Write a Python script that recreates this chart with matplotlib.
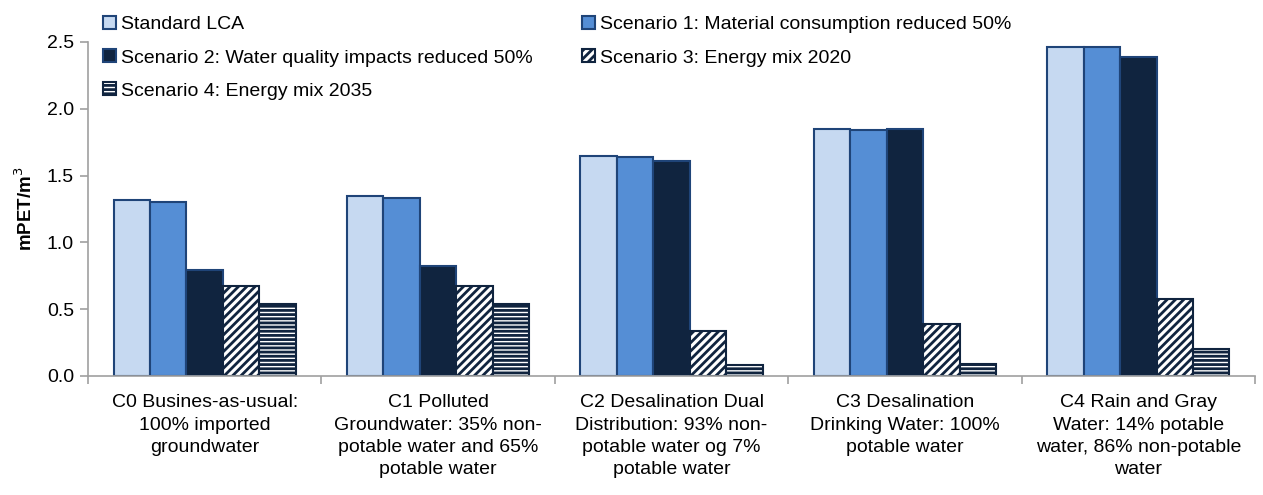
import matplotlib
matplotlib.use("Agg")
import matplotlib.pyplot as plt
import numpy as np

categories = [
    "C0 Busines-as-usual:\n100% imported\ngroundwater",
    "C1 Polluted\nGroundwater: 35% non-\npotable water and 65%\npotable water",
    "C2 Desalination Dual\nDistribution: 93% non-\npotable water og 7%\npotable water",
    "C3 Desalination\nDrinking Water: 100%\npotable water",
    "C4 Rain and Gray\nWater: 14% potable\nwater, 86% non-potable\nwater",
]
series_names = [
    "Standard LCA",
    "Scenario 1: Material consumption reduced 50%",
    "Scenario 2: Water quality impacts reduced 50%",
    "Scenario 3: Energy mix 2020",
    "Scenario 4: Energy mix 2035",
]
standard_lca = [1.32, 1.35, 1.65, 1.85, 2.46]
scenario1 = [1.30, 1.33, 1.64, 1.84, 2.46]
scenario2 = [0.79, 0.82, 1.61, 1.85, 2.39]
scenario3 = [0.67, 0.67, 0.34, 0.39, 0.58]
scenario4 = [0.54, 0.54, 0.08, 0.09, 0.20]
yticks = [0.0, 0.5, 1.0, 1.5, 2.0, 2.5]

plt.rcParams['font.family'] = ['Liberation Sans', 'DejaVu Sans']
plt.rcParams['hatch.linewidth'] = 2.0

W, H = 1263, 495
fig = plt.figure(figsize=(W / 100, H / 100), dpi=100)
ax = fig.add_axes([88 / W, 1 - 376 / H, (1255 - 88) / W, (376 - 42) / H])

edge = '#1F4478'
dark = '#10243F'
styles = [
    dict(facecolor='#C6D9F1', hatch=None),
    dict(facecolor='#558ED5', hatch=None),
    dict(facecolor='#10243F', hatch=None),
    dict(facecolor='white', hatch='////'),
    dict(facecolor='white', hatch='----'),
]
data = [standard_lca, scenario1, scenario2, scenario3, scenario4]

x = np.arange(len(categories))
bw = 0.156
handles = []
for i, (vals, st) in enumerate(zip(data, styles)):
    ec = dark if st['hatch'] else edge
    b = ax.bar(x + (i - 2) * bw, vals, width=bw, facecolor=st['facecolor'],
               edgecolor=ec, hatch=st['hatch'], linewidth=1.5,
               label=series_names[i], zorder=2)
    handles.append(b)

FS = 14
ax.set_xlim(-0.5, len(categories) - 0.5)
ax.set_ylim(0, 2.5)
ax.set_yticks(yticks)
ax.set_yticklabels([f"{v:.1f}" for v in yticks], fontsize=FS)
ax.set_xticks(x)
ax.set_xticklabels(categories, fontsize=FS, linespacing=1.42)
ax.set_xticks(np.arange(len(categories) + 1) - 0.5, minor=True)
ax.tick_params(axis='x', which='major', length=0, pad=13)
ax.tick_params(axis='x', which='minor', length=6, color='#A0A0A0', width=1.2)
ax.tick_params(axis='y', length=6, color='#A0A0A0', width=1.2, pad=4)
for s in ['top', 'right']:
    ax.spines[s].set_visible(False)
for s in ['left', 'bottom']:
    ax.spines[s].set_color('#A0A0A0')
    ax.spines[s].set_linewidth(1.2)
ax.set_ylabel("mPET/m$^3$", fontsize=13.5, fontweight='bold', labelpad=8)

leg_kw = dict(loc='upper left', frameon=False, fontsize=FS, handlelength=0.68,
              handleheight=0.68, handletextpad=0.25, labelspacing=0.8,
              borderpad=0, borderaxespad=0)
col1 = [0, 2, 4]
col2 = [1, 3]
fig.legend([handles[i] for i in col1], [series_names[i] for i in col1],
           bbox_to_anchor=(103 / W, 1 - 16 / H), **leg_kw)
fig.legend([handles[i] for i in col2], [series_names[i] for i in col2],
           bbox_to_anchor=(582 / W, 1 - 16 / H), **leg_kw)

fig.savefig("out.png", dpi=100)
